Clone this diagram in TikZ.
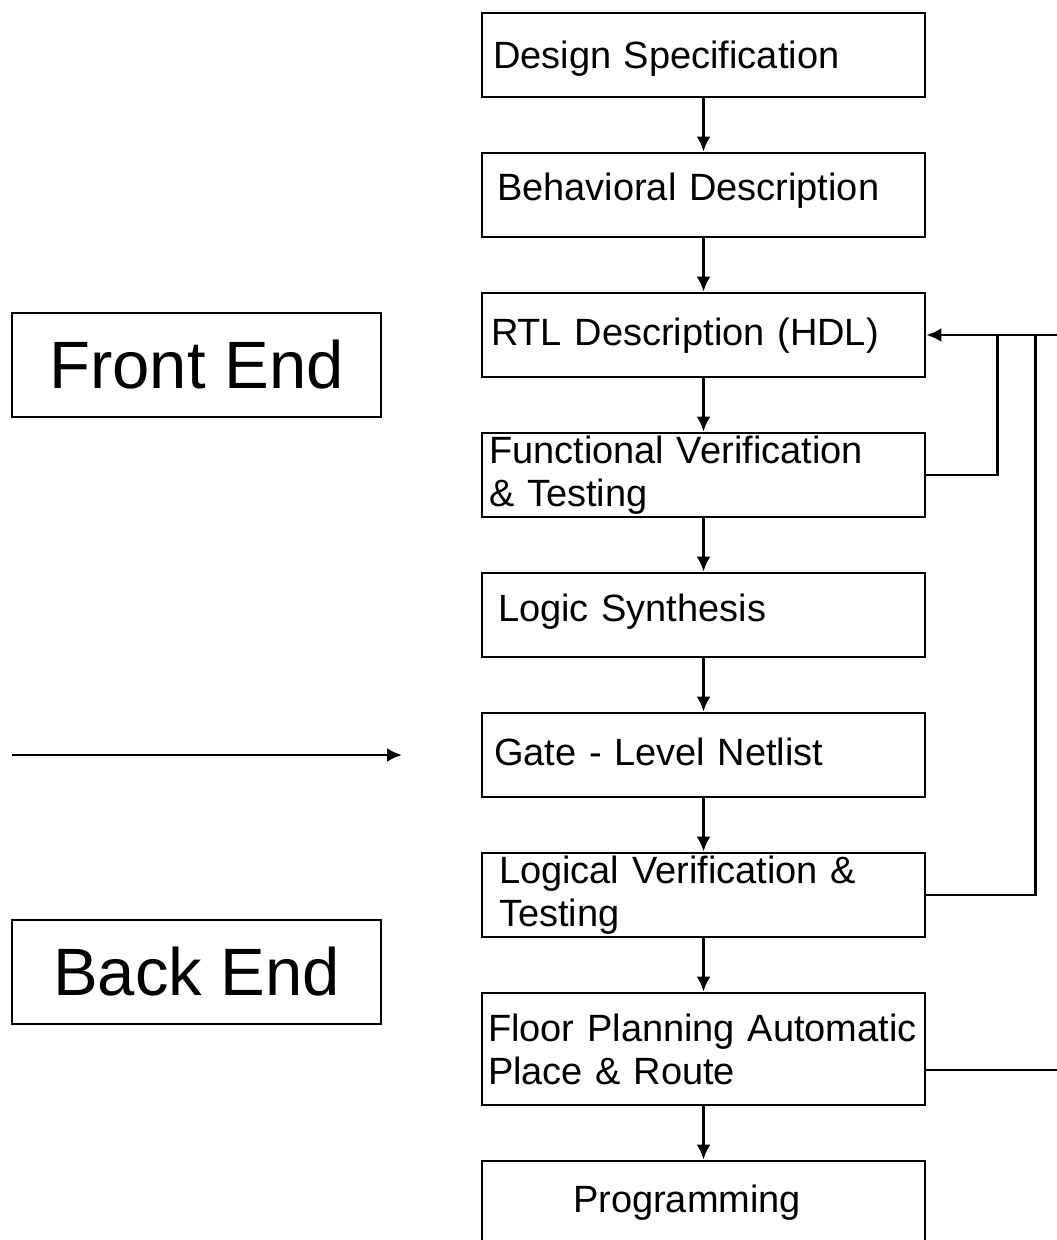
\documentclass[tikz,border=0pt]{standalone}
\usepackage{fontspec}
\setmainfont{Liberation Sans}
\usetikzlibrary{positioning,arrows.meta}

\begin{document}
\begin{tikzpicture}[x=1pt, y=-1pt, line width=2.8pt, node distance=53.2pt,
	stage/.style={draw, minimum width=443pt, minimum height=84pt, text width=431pt,
		inner xsep=6pt, inner ysep=1pt, align=left, font=\fontsize{38}{43}\selectfont},
	side/.style={draw, minimum width=369pt, minimum height=104pt, font=\fontsize{67}{75}\selectfont},
	tip/.style={-{Latex[length=15pt,width=14pt]}}]
	\useasboundingbox (0,0) rectangle (1057,1240);
	\clip (0,0) rectangle (1057,1240);
	% design flow
	\node[stage, text depth=0pt] (spec) at (703.5,55) {\hspace*{5pt}Design Specification};
	\node[stage, text depth=16pt, below=of spec] (behav) {\hspace*{9pt}Behavioral Description};
	\node[stage, text depth=6pt, below=of behav] (rtl) {\hspace*{3pt}RTL Description (HDL)};
	\node[stage, below=of rtl] (funcver) {\hspace*{1pt}Functional Verification\\\hspace*{1pt}\& Testing};
	\node[stage, text depth=14pt, below=of funcver] (synth) {\hspace*{10pt}Logic Synthesis};
	\node[stage, text depth=6pt, below=of synth] (netlist) {\hspace*{6pt}Gate - Level Netlist};
	\node[stage, below=of netlist] (logver) {\hspace*{11pt}Logical Verification \&\\\hspace*{11pt}Testing};
	\node[stage, below=of logver, minimum height=112pt] (place) {Floor Planning Automatic\\Place \& Route};
	\node[stage, below=of place] (prog) {\hspace*{85pt}Programming};
	\foreach \a/\b in {spec/behav, behav/rtl, rtl/funcver, funcver/synth, synth/netlist,
		netlist/logver, logver/place, place/prog}
		\draw[tip] (\a) -- (\b);
	% feedback loops
	\coordinate (rim) at (1062,0);
	\coordinate (placeout) at ([yshift=-21pt]place.east);
	\draw[tip] (rtl.east -| rim) -- (rtl.east);
	\draw (funcver.east) -| ([xshift=71pt]rtl.east);
	\draw (logver.east) -| ([xshift=109pt]rtl.east);
	\draw (placeout) -- (placeout -| rim);
	% front / back end
	\node[side] (front) at (196.5,365) {Front End};
	\node[side] (back) at (196.5,972) {Back End};
	\coordinate (gatein) at (12,755);
	\coordinate (gatetip) at (402,755);
	\draw[tip] (gatein) -- (gatetip);
\end{tikzpicture}
\end{document}
